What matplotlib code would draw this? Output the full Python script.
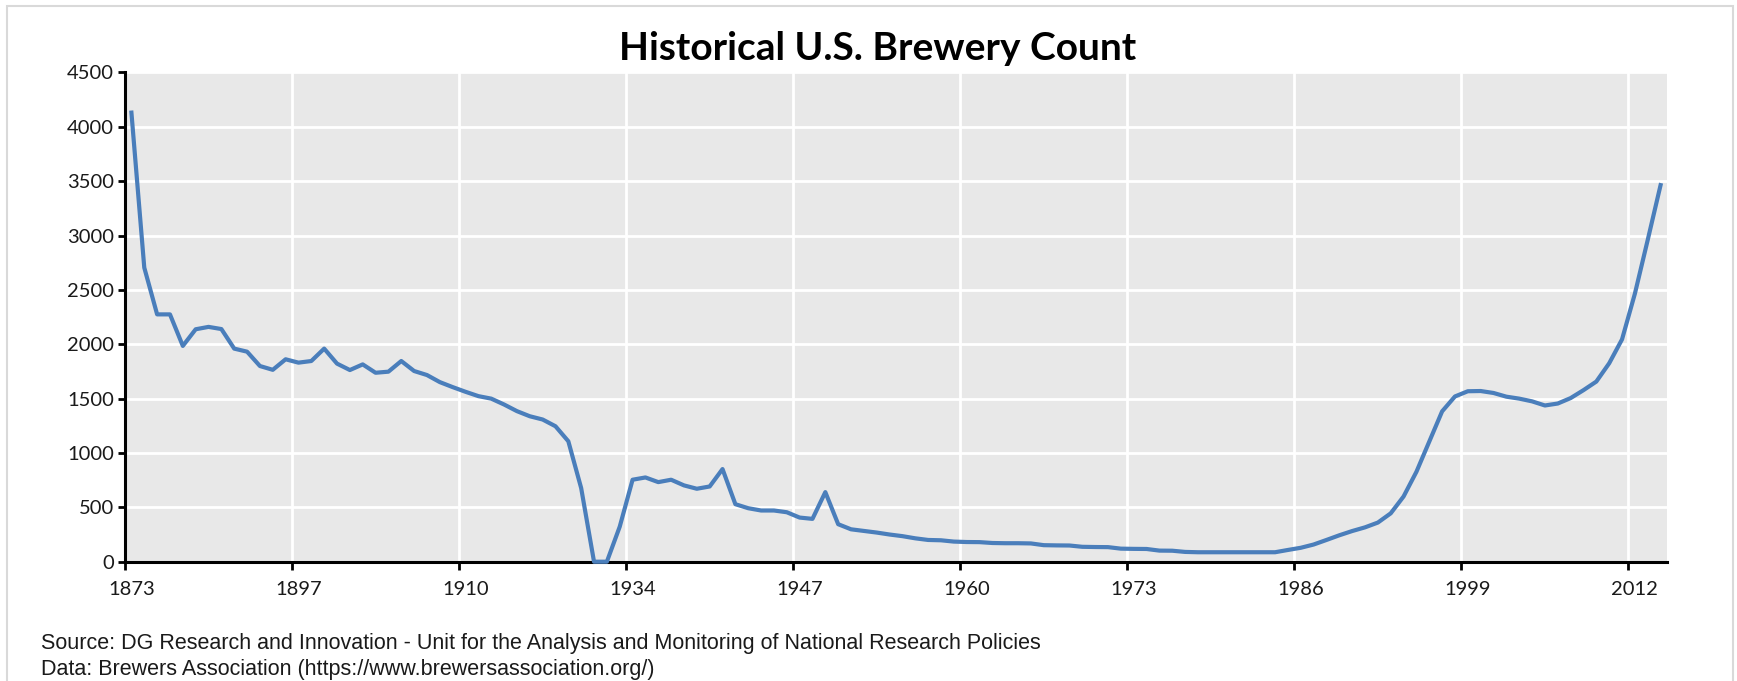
import numpy as np
import matplotlib.pyplot as plt
from matplotlib.patches import Rectangle

# brewery counts, one value per category on the chart (1873 ... 2014)
counts = [4131, 2705, 2275, 2275, 1985, 2138, 2160, 2140, 1960, 1932,
          1800, 1765, 1862, 1831, 1846, 1960, 1822, 1763, 1815, 1738,
          1748, 1846, 1754, 1717, 1652, 1606, 1563, 1523, 1500, 1446,
          1385, 1338, 1308, 1246, 1108, 677, 0, 0, 322, 754,
          775, 732, 754, 702, 671, 692, 852, 529, 492, 471,
          471, 455, 406, 394, 640, 345, 298, 283, 268, 250,
          235, 215, 200, 197, 185, 181, 180, 172, 170, 170,
          168, 152, 150, 149, 137, 135, 134, 120, 118, 117,
          102, 101, 90, 87, 87, 87, 87, 87, 87, 87,
          108, 128, 158, 200, 243, 282, 316, 360, 445, 600,
          827, 1105, 1383, 1520, 1568, 1570, 1552, 1518, 1500, 1475,
          1437, 1455, 1505, 1578, 1657, 1825, 2045, 2465, 2960, 3464]

tick_labels = ["1873", "1897", "1910", "1934", "1947",
               "1960", "1973", "1986", "1999", "2012"]
label_step = 13

title = "Historical U.S. Brewery Count"
source_lines = ["Source: DG Research and Innovation - Unit for the Analysis and Monitoring of National Research Policies",
                "Data: Brewers Association (https://www.brewersassociation.org/)"]

W, H = 1737, 681
fig = plt.figure(figsize=(W / 100, H / 100), dpi=100)

# plot area in pixels
left, right, top, bottom = 125, 1667, 72.5, 561.7
ax = fig.add_axes([left / W, 1 - bottom / H, (right - left) / W, (bottom - top) / H])
ax.set_facecolor("#E8E8E8")

n = len(counts)
x = np.arange(n) + 0.5
ax.plot(x, counts, color="#4A7EBB", lw=3, solid_joinstyle="round",
        clip_on=False, zorder=5)

ax.set_xlim(0, n)
ax.set_ylim(0, 4500)
ax.set_yticks(np.arange(0, 4501, 500))

major = np.arange(len(tick_labels)) * label_step
ax.set_xticks(major, labels=[])
ax.set_xticks(major + 0.5, labels=tick_labels, minor=True)

ax.grid(True, which="major", color="white", lw=2)
ax.set_axisbelow(True)

for s in ["top", "right"]:
    ax.spines[s].set_visible(False)
for s in ["left", "bottom"]:
    ax.spines[s].set_linewidth(2.2)
    ax.spines[s].set_color("black")

font = "Lato"
ax.tick_params(axis="y", which="major", length=5, width=2, pad=3,
               labelsize=14.5, labelcolor="#1a1a1a")
ax.tick_params(axis="x", which="major", length=6, width=2)
ax.tick_params(axis="x", which="minor", length=0, pad=14,
               labelsize=14.5, labelcolor="#1a1a1a")
for lab in ax.get_yticklabels() + ax.get_xticklabels(minor=True):
    lab.set_family(font)

fig.text(878 / W, 1 - 48.5 / H, title, ha="center", va="center",
         fontsize=28, fontweight="bold", family=font)

fig.text(41 / W, 1 - 643 / H, source_lines[0], ha="left", va="center",
         fontsize=15.5, family="Liberation Sans", color="#1a1a1a")
fig.text(41 / W, 1 - 669.5 / H, source_lines[1], ha="left", va="center",
         fontsize=15.5, family="Liberation Sans", color="#1a1a1a")

# light frame around the chart
fig.patches.append(Rectangle((7 / W, -0.05), (1733 - 7) / W, 1 - 6 / H + 0.05,
                             transform=fig.transFigure, fill=False,
                             edgecolor="#D9D9D9", lw=1.5))

fig.savefig("out.png", dpi=100, facecolor="white")
